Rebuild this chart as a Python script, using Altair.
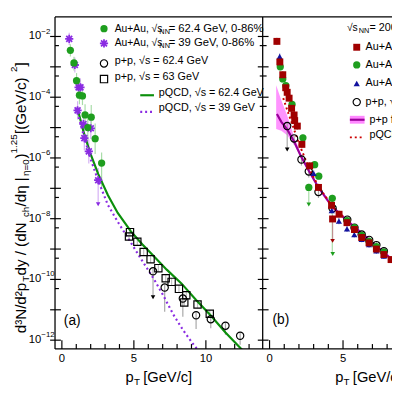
import altair as alt
import pandas as pd

# ================= DATA =================
# ---- panel (a) ----
aa62_pt = [0.59, 0.84, 1.02, 1.22, 1.43, 1.61, 1.80, 2.04, 2.31, 2.76]
aa62_y = [3.5e-3, 1.35e-3, 3.5e-4, 1.17e-4, 1.1e-4, 2.6e-5, 1.0e-5, 2.2e-5, 4.3e-6, 6.8e-7]
aa62_up = [0.2, 0.2, 0.25, 0.3, 0.3, 0.35, 0.4, 0.4, 0.5, 0.35]
aa62_dn = [0.2, 0.25, 0.25, 0.3, 0.3, 0.35, 0.4, 0.4, 0.5, 0.8]

aa39_pt = [0.51, 0.90, 1.16, 1.29, 1.09, 1.50, 2.01, 1.56, 1.87, 2.52]
aa39_y = [8.3e-3, 1.15e-3, 2.1e-4, 2.1e-4, 3.7e-5, 1.3e-5, 9.5e-6, 4.5e-6, 1.65e-6, 1.85e-7]
aa39_up = [0.2, 0.25, 0.3, 0.3, 0.3, 0.35, 0.35, 0.4, 0.4, 0.4]
aa39_dn = [0.2, 0.25, 0.3, 0.3, 0.3, 0.35, 0.35, 0.4, 0.4, 0.8]
aa39_lim_pt = [2.52]
aa39_lim_y = [3.0e-8]

pp63_pt = [4.73, 4.66, 5.24, 5.68, 6.16, 6.70, 7.21, 7.62, 8.13, 8.50, 8.64, 9.42, 10.27]
pp63_y = [3.6e-9, 2.6e-9, 1.75e-9, 8e-10, 4.6e-10, 2.35e-10, 1.1e-10, 8.3e-11, 4.9e-11,
          1.75e-11, 3.0e-11, 1.5e-11, 7.4e-12]

pp62_pt = [6.33, 7.14, 8.40, 9.32, 10.34, 11.36, 12.38]
pp62_y = [1.85e-10, 5.4e-11, 2.35e-11, 6.6e-12, 4.9e-12, 3.0e-12, 1.4e-12]
pp62_up = [0.1, 0.1, 0.1, 0.1, 0.1, 0.1, 0.1]
pp62_dn = [0.85, 0.8, 0.6, 0.45, 0.3, 0.3, 0.3]
pp62_lim_pt = [6.33]
pp62_lim_y = [2.6e-11]

pqcd62_pt = [1.07, 1.50, 1.97, 2.52, 3.20, 3.88, 4.78, 5.58, 6.37, 7.28, 8.30, 9.32, 10.34, 11.36, 12.52]
pqcd62_y = [4.5e-5, 7.4e-6, 1.45e-6, 3.0e-7, 5.9e-8, 1.55e-8, 3.9e-9, 1.45e-9, 5.9e-10,
            2.1e-10, 7.4e-11, 2.1e-11, 6.5e-12, 1.8e-12, 4.8e-13]

pqcd39_pt = [0.99, 1.50, 1.97, 2.52, 3.20, 3.88, 4.78, 5.58, 6.37, 7.07, 7.73, 8.43, 9.10, 9.66]
pqcd39_y = [4.5e-5, 5.9e-6, 1.0e-6, 1.8e-7, 2.8e-8, 7.9e-9, 1.66e-9, 4.1e-10, 1.07e-10,
            2.8e-11, 7.1e-12, 2.1e-12, 7.6e-13, 3.5e-13]

# ---- panel (b) ----
aa200a_pt = [0.50, 0.70, 0.90, 1.10, 1.20, 1.33, 1.50, 1.67, 1.71, 1.89, 2.20, 2.73, 3.33,
             4.22, 4.29, 4.73, 5.27, 5.78, 6.27, 6.77, 7.27, 7.78, 8.27]
aa200a_y = [6.9e-3, 1.45e-3, 5.5e-4, 2.05e-4, 1.45e-4, 9.3e-5, 4.3e-5, 2.6e-5, 1.7e-5, 1.12e-5,
            2.8e-6, 5.5e-7, 1.07e-7, 2.75e-8, 9.8e-9, 1.4e-8, 7.4e-9, 4.4e-9, 2.4e-9, 1.6e-9,
            1.0e-9, 6.6e-10, 4.5e-10]
aa200a_lim_pt = [4.29]
aa200a_lim_y = [1.86e-9]

aa200b_pt = [0.73, 0.90, 1.11, 1.53, 2.27, 3.07, 3.35, 2.67, 4.27, 5.27, 5.78, 6.27, 6.77, 7.27, 7.78]
aa200b_y = [1.0e-3, 4.0e-4, 2.4e-4, 5.8e-5, 4.6e-6, 6.0e-7, 2.5e-7, 1.07e-7, 4.7e-8, 8.7e-9,
            5.1e-9, 2.8e-9, 1.8e-9, 1.2e-9, 7.9e-10]
aa200b_lim_pt = [2.67, 4.30]
aa200b_lim_y = [2.95e-8, 6.9e-10]

aa200c_pt = [0.69, 3.0, 4.23, 4.72, 5.27, 5.77, 6.27, 6.77, 7.27, 7.78]
aa200c_y = [2.2e-3, 3.1e-7, 1.86e-8, 8.3e-9, 4.6e-9, 3.0e-9, 2.1e-9, 1.4e-9, 8.7e-10, 5.9e-10]

pp200_pt = [1.20, 1.67, 2.17, 2.67, 3.33, 4.29, 5.29, 5.78, 6.27, 6.78, 7.27, 7.78]
pp200_y = [1.12e-5, 4.4e-6, 8.9e-7, 3.6e-7, 7.6e-8, 2.2e-8, 9.3e-9, 5.0e-9, 3.0e-9, 2.0e-9,
           1.35e-9, 8.5e-10]
pp200_lim_pt = [1.20]
pp200_lim_y = [1.9e-6]

fit_pt = [0.50, 0.80, 1.20, 1.67, 2.13, 2.67, 3.33, 4.27, 5.27, 6.27, 7.27, 8.27]
fit_y = [2.8e-5, 1.55e-5, 8.7e-6, 3.5e-6, 1.15e-6, 3.8e-7, 1.07e-7, 2.45e-8, 8.7e-9, 3.3e-9, 1.26e-9, 4.8e-10]
band_pt = [0.45, 0.80, 1.20, 1.67, 2.13, 2.67, 3.33, 4.27, 5.27, 6.27, 7.27, 8.27]
band_lo = [9.0e-6, 7.9e-6, 5.6e-6, 2.8e-6, 1.0e-6, 3.3e-7, 9.3e-8, 2.1e-8, 7.6e-9, 2.9e-9, 1.1e-9, 4.2e-10]
band_hi = [2.5e-4, 7.9e-5, 2.5e-5, 5.0e-6, 1.4e-6, 4.4e-7, 1.23e-7, 2.8e-8, 1.0e-8, 3.8e-9, 1.45e-9, 5.5e-10]

pqcd200_pt = [0.93, 1.20, 1.53, 2.00, 2.67, 3.33, 4.27, 5.27, 6.27, 7.27, 8.33]
pqcd200_y = [9.3e-5, 3.8e-5, 1.35e-5, 3.0e-6, 4.8e-7, 1.15e-7, 2.6e-8, 8.7e-9, 3.0e-9, 1.07e-9, 4.1e-10]

# ---- axes ----
y_major = [1e-2, 1e-3, 1e-4, 1e-5, 1e-6, 1e-7, 1e-8, 1e-9, 1e-10, 1e-11, 1e-12]
y_minor = [5e-3, 5e-4, 5e-5, 5e-6, 5e-7, 5e-8, 5e-9, 5e-10, 5e-11]
y_label_vals = [1e-2, 1e-4, 1e-6, 1e-8, 1e-10, 1e-12]
y_label_exp = ["\u22122", "\u22124", "\u22126", "\u22128", "\u221210", "\u221212"]
xa_major = [0, 5, 10]
xa_minor = [1, 2, 3, 4, 6, 7, 8, 9, 11, 12, 13]
xb_major = [0, 5]
xb_minor = [1, 2, 3, 4, 6, 7, 8]

# ================= HELPERS =================
FH = "Liberation Sans Narrow, Liberation Sans, Arial, sans-serif"
FT = "Liberation Sans, Arial, sans-serif"
W, H = 344, 339
ONE = pd.DataFrame({"k": [0]})

GREEN = "#1e9e1e"
GREEN_L = "#0b8f0b"
PURPLE = "#8a2be2"
DRED = "#a00000"
BLUE = "#12129e"
MAG = "#990099"
PINK = "#ff88ff"
RED = "#cc0000"

ysc = alt.Scale(type="log", domain=[5.13e-13, 4.416e-2], nice=False)
xsa = alt.Scale(domain=[-0.476, 22.925], nice=False, zero=False)
xsb = alt.Scale(domain=[-14.6, 8.333], nice=False, zero=False)

ASTER = "M-1,0L1,0M0,-1L0,1M-0.72,-0.72L0.72,0.72M-0.72,0.72L0.72,-0.72"


def df_pts(pt, y, up=None, dn=None):
    d = pd.DataFrame({"pt": pt, "v": y})
    if up is not None:
        d["hi"] = [v * 10 ** u for v, u in zip(y, up)]
        d["lo"] = [v / 10 ** e for v, e in zip(y, dn)]
    return d


def enc(ch, xs):
    return ch.encode(x=alt.X("pt:Q", scale=xs, axis=None), y=alt.Y("v:Q", scale=ysc, axis=None))


def points(d, xs, shape, color, size, filled=True, sw=1.2):
    m = alt.Chart(d).mark_point(shape=shape, filled=filled, color=color, size=size,
                                strokeWidth=sw, opacity=1, clip=True)
    return enc(m, xs)


def errs(d, xs, color, sw=1.2):
    return alt.Chart(d).mark_rule(color=color, strokeWidth=sw, clip=True).encode(
        x=alt.X("pt:Q", scale=xs, axis=None),
        y=alt.Y("lo:Q", scale=ysc, axis=None), y2="hi:Q")


def line(d, xs, color, sw=2.0, dash=None):
    kw = dict(color=color, strokeWidth=sw, clip=True)
    if dash:
        kw["strokeDash"] = dash
    return enc(alt.Chart(d).mark_line(**kw), xs)


def txt(s, x, y, size=11, align="left", font=FH, angle=0, color="black"):
    return alt.Chart(ONE).mark_text(text=s, align=align, baseline="middle", fontSize=size,
                                    font=font, angle=angle, color=color).encode(
        x=alt.value(x), y=alt.value(y))


def hrule(x1, x2, y, color="black", sw=1.3, dash=None):
    kw = dict(color=color, strokeWidth=sw)
    if dash:
        kw["strokeDash"] = dash
    return alt.Chart(ONE).mark_rule(**kw).encode(x=alt.value(x1), x2=alt.value(x2), y=alt.value(y))


def vrule(x, y1, y2, color="black", sw=1.3):
    return alt.Chart(ONE).mark_rule(color=color, strokeWidth=sw).encode(
        x=alt.value(x), y=alt.value(y1), y2=alt.value(y2))


def marker(x, y, shape, color, size, filled=True, sw=1.2):
    return alt.Chart(ONE).mark_point(shape=shape, filled=filled, color=color, size=size,
                                     strokeWidth=sw, opacity=1).encode(
        x=alt.value(x), y=alt.value(y))


layers = []

# ================= PANEL (a) =================
d62 = df_pts(aa62_pt, aa62_y, aa62_up, aa62_dn)
d39 = df_pts(aa39_pt, aa39_y, aa39_up, aa39_dn)
dsq = df_pts(pp63_pt, pp63_y, [0.12] * len(pp63_pt), [0.12] * len(pp63_pt))
dci = df_pts(pp62_pt, pp62_y, pp62_up, pp62_dn)

layers += [
    errs(dsq, xsa, "#c0c0c0"),
    errs(dci, xsa, "#a8a8a8"),
    errs(d39, xsa, "#d4b0f4"),
    errs(d62, xsa, "#a8dca8"),
    line(df_pts(pqcd62_pt, pqcd62_y), xsa, GREEN_L, 2.2),
    line(df_pts(pqcd39_pt, pqcd39_y), xsa, PURPLE, 2.2, [2, 3]),
    points(dsq, xsa, "square", "black", 55, filled=False),
    points(dci, xsa, "circle", "black", 55, filled=False),
    points(df_pts(pp62_lim_pt, pp62_lim_y), xsa, "triangle-down", "black", 22),
    points(d39, xsa, ASTER, PURPLE, 70, filled=False, sw=1.8),
    points(df_pts(aa39_lim_pt, aa39_lim_y), xsa, "triangle-down", PURPLE, 22),
    points(d62, xsa, "circle", GREEN, 55),
]

# ================= PANEL (b) =================
da = df_pts(aa200a_pt, aa200a_y, [0.12] * len(aa200a_pt), [0.12] * 14 + [0.7] + [0.1] * 8)
db = df_pts(aa200b_pt, aa200b_y, [0.12] * len(aa200b_pt),
            [0.12] * 7 + [0.55, 1.8] + [0.1] * 6)
dc = df_pts(aa200c_pt, aa200c_y, [0.1] * len(aa200c_pt), [0.1] * len(aa200c_pt))
dp = df_pts(pp200_pt, pp200_y, [0.1] * len(pp200_pt), [0.75] + [0.2] * 4 + [0.1] * 7)
dband = pd.DataFrame({"pt": band_pt, "lo": band_lo, "hi": band_hi})

layers += [
    alt.Chart(dband).mark_area(color=PINK, opacity=0.9, clip=True).encode(
        x=alt.X("pt:Q", scale=xsb, axis=None),
        y=alt.Y("lo:Q", scale=ysc, axis=None), y2="hi:Q"),
    errs(dp, xsb, "#a8a8a8"),
    errs(db, xsb, "#a8dca8"),
    errs(da, xsb, "#c09090"),
    errs(dc, xsb, "#9090c8"),
    line(df_pts(fit_pt, fit_y), xsb, MAG, 2.2),
    line(df_pts(pqcd200_pt, pqcd200_y), xsb, RED, 2.0, [2, 3]),
    points(dp, xsb, "circle", "black", 55, filled=False),
    points(df_pts(pp200_lim_pt, pp200_lim_y), xsb, "triangle-down", "black", 22),
    points(db, xsb, "circle", GREEN, 55),
    points(df_pts(aa200b_lim_pt, aa200b_lim_y), xsb, "triangle-down", GREEN, 22),
    points(dc, xsb, "triangle-up", BLUE, 40),
    points(da, xsb, "square", DRED, 50),
    points(df_pts(aa200a_lim_pt, aa200a_lim_y), xsb, "triangle-down", DRED, 22),
]

# ================= FRAME & TICKS =================
dymaj = pd.DataFrame({"v": y_major})
dymin = pd.DataFrame({"v": y_minor})
for xc in (0, 212):
    layers.append(alt.Chart(dymaj).mark_rule(color="black", strokeWidth=1.2).encode(
        y=alt.Y("v:Q", scale=ysc, axis=None), x=alt.value(xc - 5), x2=alt.value(xc + 6)))
    layers.append(alt.Chart(dymin).mark_rule(color="black", strokeWidth=1.2).encode(
        y=alt.Y("v:Q", scale=ysc, axis=None), x=alt.value(xc - 3 if xc else xc), x2=alt.value(xc + 4)))

for major, minor, xs in ((xa_major, xa_minor, xsa), (xb_major, xb_minor, xsb)):
    layers.append(alt.Chart(pd.DataFrame({"pt": major})).mark_rule(color="black", strokeWidth=1.2).encode(
        x=alt.X("pt:Q", scale=xs, axis=None), y=alt.value(H), y2=alt.value(H - 9)))
    layers.append(alt.Chart(pd.DataFrame({"pt": minor})).mark_rule(color="black", strokeWidth=1.2).encode(
        x=alt.X("pt:Q", scale=xs, axis=None), y=alt.value(H), y2=alt.value(H - 5)))
    dl = pd.DataFrame({"pt": major, "t": [str(l) for l in major]})
    layers.append(alt.Chart(dl).mark_text(fontSize=11.5, font=FH, baseline="middle").encode(
        x=alt.X("pt:Q", scale=xs, axis=None), y=alt.value(H + 10), text="t:N"))

layers += [
    vrule(0, 0, H), vrule(212, 0, H),
    hrule(0, W, 0), hrule(0, W, H),
]

# y tick labels
dyl = pd.DataFrame({"v": y_label_vals, "e": y_label_exp})
layers.append(alt.Chart(dyl).mark_text(fontSize=11.5, font=FH, align="right", baseline="middle").encode(
    y=alt.Y("v:Q", scale=ysc, axis=None), x=alt.value(-14), text=alt.value("10")))
layers.append(alt.Chart(dyl).mark_text(fontSize=8, font=FH, align="left", baseline="middle", dy=-5).encode(
    y=alt.Y("v:Q", scale=ysc, axis=None), x=alt.value(-14), text="e:N"))

# ================= TITLES =================
for x0 in (128 - 56, 342 - 56):
    layers += [txt("p", x0, 368, 15, font=FH), txt("T", x0 + 8.5, 373, 10, font=FH),
               txt("[GeV/c]", x0 + 18, 368, 15, font=FH)]

CW = {'d': .556, 'N': .722, '/': .278, 'p': .556, '\u00b3': .333, '\u00b2': .333, 'T': .611,
      ' ': .278, 'y': .5, '(': .333, ')': .333, 'c': .5, 'h': .556, '\u03b7': .6, '|': .26,
      '=': .584, '0': .556, '1': .556, '.': .278, '2': .556, '5': .556, '[': .278, ']': .278,
      'G': .778, 'e': .556, 'V': .667}
ytitle = [("d\u00b3N/d\u00b2p", "n"), ("T", "sub"), (" dy / (dN", "n"), ("ch", "sub"),
          ("/d\u03b7 |", "n"), ("\u03b7=0", "sub"), (")", "n"), ("1.25", "sup"),
          (" [(GeV/c)", "n"), ("2", "sup"), ("]", "n")]
ypos = 336 - 13
for s, kind in ytitle:
    fs = 15.5 if kind == "n" else 10
    xo = {"n": -35, "sub": -29.5, "sup": -41.5}[kind]
    layers.append(txt(s, xo, ypos, fs, font=FT, angle=270))
    ypos -= sum(CW.get(c, .556) for c in s) * fs * 1.02

layers += [txt("(a)", 9, 311, 14, font=FH), txt("(b)", 222, 310, 14, font=FH)]

# ================= LEGENDS =================
layers += [
    marker(50, 12, "circle", GREEN, 55),
    marker(50, 27, ASTER, PURPLE, 70, filled=False, sw=1.8),
    marker(50, 47.5, "circle", "black", 55, filled=False),
    marker(50, 63.5, "square", "black", 55, filled=False),
    hrule(87, 101, 80, GREEN_L, 2.2),
    hrule(87, 101, 97, PURPLE, 2.2, [2, 3]),
    txt("Au+Au, \u221as", 61, 12, 10.5), txt("NN", 106.5, 15, 7.5), txt("= 62.4 GeV, 0-86%", 116, 12, 11.5),
    txt("Au+Au, \u221as", 61, 27, 10.5), txt("NN", 106.5, 30, 7.5), txt("= 39 GeV, 0-86%", 116, 27, 11.5),
    txt("p+p, \u221as = 62.4 GeV", 61, 45.5),
    txt("p+p, \u221as = 63 GeV", 61, 61.5),
    txt("pQCD, \u221as = 62.4 GeV", 106, 77.5),
    txt("pQCD, \u221as = 39 GeV", 106, 93),
]
layers += [
    txt("\u221as", 298, 11.5, 10.5), txt("NN", 310, 14.5, 7.5), txt("= 200 GeV", 321, 11.5),
    marker(308, 31, "square", DRED, 50),
    marker(308, 49, "circle", GREEN, 55),
    marker(308, 68, "triangle-up", BLUE, 40),
    marker(308, 87, "circle", "black", 55, filled=False),
    alt.Chart(ONE).mark_rect(color=PINK).encode(x=alt.value(301), x2=alt.value(316),
                                                y=alt.value(101), y2=alt.value(109)),
    hrule(301, 316, 105, MAG, 2.2),
    hrule(301, 316, 123, RED, 2.0, [2, 3]),
    txt("Au+Au, 0-5%", 317, 31), txt("Au+Au, 0-80%", 317, 49), txt("Au+Au, 0-20%", 317, 68),
    txt("p+p, \u221as = 200 GeV", 317, 87),
    txt("p+p fit", 321, 105),
    txt("pQCD, \u221as = 200 GeV", 321, 121),
]

chart = alt.layer(*layers).resolve_scale(x="independent").properties(
    width=W, height=H,
    autosize=alt.AutoSizeParams(type="none"),
    padding={"left": 48, "top": 5, "right": 0, "bottom": 47},
).configure_view(stroke=None)

chart.save("out.html", embed_options={"renderer": "svg", "actions": False})
